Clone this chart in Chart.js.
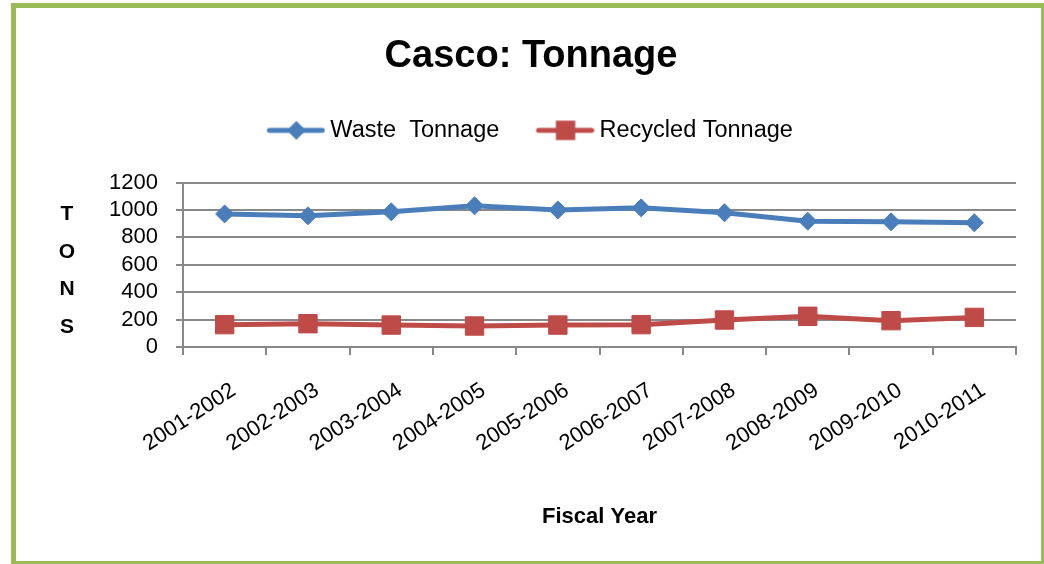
<!DOCTYPE html>
<html>
<head>
<meta charset="utf-8">
<script src="https://cdn.jsdelivr.net/npm/chart.js@4.4.1/dist/chart.umd.min.js"></script>
<style>
  html, body { margin: 0; padding: 0; background: #ffffff; }
  #wrap { position: relative; width: 1044px; height: 564px; overflow: hidden; }
  canvas { position: absolute; left: 0; top: 0; }
  #frame { position: absolute; left: 11px; top: 3px; width: 1035px; height: 563px; box-sizing: border-box; border: 5px solid #9BBB59; pointer-events: none; }
</style>
</head>
<body>
<div id="wrap">
  <canvas id="c" width="1044" height="564"></canvas>
  <div id="frame"></div>
</div>
<script>
// ---- data ----
const categories = ['2001-2002','2002-2003','2003-2004','2004-2005','2005-2006','2006-2007','2007-2008','2008-2009','2009-2010','2010-2011'];
const wasteTonnage = [971, 957, 986, 1030, 1000, 1015, 979, 918, 913, 906];
const recycledTonnage = [163, 170, 160, 153, 160, 163, 197, 224, 192, 216];
const seriesNames = ['Waste  Tonnage', 'Recycled Tonnage'];
const yTicks = [0, 200, 400, 600, 800, 1000, 1200];
const chartTitle = 'Casco: Tonnage';
const xTitle = 'Fiscal Year';
const yTitleLetters = ['T', 'O', 'N', 'S'];

const BLUE = '#4A7EBB';
const RED = '#BE4B48';
const GRID = '#888888';
const FONT = '"Liberation Sans", Arial, sans-serif';

Chart.defaults.font.family = FONT;
Chart.defaults.color = '#000000';

function legendIcon(color, shape) {
  const c = document.createElement('canvas');
  c.width = 63; c.height = 24;
  const g = c.getContext('2d');
  g.strokeStyle = color; g.fillStyle = color;
  g.lineWidth = 5; g.lineCap = 'round';
  g.beginPath(); g.moveTo(7, 12); g.lineTo(60, 12); g.stroke();
  if (shape === 'diamond') {
    g.beginPath(); g.moveTo(34 - 9.5, 12); g.lineTo(34, 2.5); g.lineTo(34 + 9.5, 12); g.lineTo(34, 21.5); g.closePath(); g.fill();
  } else {
    g.fillRect(34 - 9.7, 12 - 9.7, 19.4, 19.4);
  }
  return c;
}
const icons = [legendIcon(BLUE, 'diamond'), legendIcon(RED, 'square')];

const tonsTitle = {
  id: 'tonsTitle',
  afterDraw(chart) {
    const ctx = chart.ctx, y = chart.scales.y, a = chart.chartArea;
    ctx.save();
    ctx.font = 'bold 21px ' + FONT;
    ctx.fillStyle = '#000';
    ctx.textAlign = 'center';
    ctx.textBaseline = 'middle';
    const cx = y.left + 21;
    const cy = (a.top + a.bottom) / 2 + 6;
    const step = 37.6;
    yTitleLetters.forEach((ch, i) => {
      ctx.fillText(ch, cx, cy + (i - (yTitleLetters.length - 1) / 2) * step);
    });
    ctx.restore();
  }
};

new Chart(document.getElementById('c'), {
  type: 'line',
  data: {
    labels: categories,
    datasets: [
      {
        label: seriesNames[0], data: wasteTonnage,
        borderColor: BLUE, backgroundColor: BLUE, borderWidth: 5,
        pointStyle: 'rectRot', pointRadius: 9, pointBorderWidth: 1,
        pointBackgroundColor: BLUE, pointBorderColor: BLUE, tension: 0
      },
      {
        label: seriesNames[1], data: recycledTonnage,
        borderColor: RED, backgroundColor: RED, borderWidth: 5,
        pointStyle: 'rect', pointRadius: 13, pointBorderWidth: 1,
        pointBackgroundColor: RED, pointBorderColor: RED, tension: 0
      }
    ]
  },
  options: {
    responsive: false,
    animation: false,
    devicePixelRatio: 1,
    layout: { padding: { left: 46, right: 28, top: 0, bottom: 0 } },
    plugins: {
      tooltip: { enabled: false },
      title: {
        display: true, text: chartTitle, color: '#000',
        font: { size: 38, weight: 'bold', lineHeight: 1.2 },
        padding: { top: 34, bottom: 0 }
      },
      subtitle: {
        display: true, text: '', weight: 500, position: 'top',
        font: { size: 1, lineHeight: 1 },
        padding: { top: 0, bottom: 29.4 }
      },
      legend: {
        display: true, position: 'top',
        labels: {
          usePointStyle: true, pointStyleWidth: 49.5,
          padding: 39, color: '#000',
          font: { size: 23.5 },
          generateLabels(chart) {
            const items = Chart.defaults.plugins.legend.labels.generateLabels(chart);
            items.forEach((it, i) => { it.pointStyle = icons[i]; });
            return items;
          }
        }
      }
    },
    scales: {
      x: {
        offset: true,
        grid: { display: true, drawOnChartArea: false, drawTicks: true, offset: true, tickLength: 8, color: GRID, lineWidth: 2 },
        border: { display: true, color: GRID, width: 2 },
        ticks: { autoSkip: false, minRotation: 33, maxRotation: 33, padding: 22.5, labelOffset: 9, font: { size: 22 }, color: '#000' },
        title: { display: true, text: xTitle, color: '#000', font: { size: 22, weight: 'bold', lineHeight: 1.2 }, padding: { top: 0, bottom: 33.8 } },
        afterFit(scale) { scale.height = 217; }
      },
      y: {
        min: yTicks[0], max: yTicks[yTicks.length - 1],
        afterBuildTicks(scale) { scale.ticks = yTicks.map(v => ({ value: v })); },
        grid: { display: true, drawTicks: true, tickLength: 7, color: GRID, lineWidth: 2 },
        border: { display: true, color: GRID, width: 2 },
        ticks: { autoSkip: false, padding: 18, font: { size: 22 }, color: '#000', callback: (v) => String(v) },
        afterFit(scale) { scale.width = 137; }
      }
    }
  },
  plugins: [tonsTitle]
});
</script>
</body>
</html>
